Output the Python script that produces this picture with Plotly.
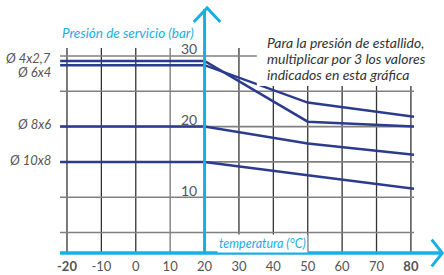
import plotly.graph_objects as go

# ---- data ----
temps = [-22, 20, 50, 81]                 # temperature breakpoints (°C)
tubes = ["Ø 4x2,7", "Ø 6x4", "Ø 8x6", "Ø 10x8"]
p_4x27 = [29.3, 29.3, 20.7, 20.0]
p_6x4 = [28.7, 28.7, 23.4, 21.4]
p_8x6 = [20.0, 20.0, 17.6, 16.0]
p_10x8 = [15.0, 15.0, 13.1, 11.2]
series = [p_4x27, p_6x4, p_8x6, p_10x8]
label_shift = [3, -7, 3, 2]

x_ticks = [-20, -10, 0, 10, 20, 30, 40, 50, 60, 70, 80]
x_ticktext = ["<b>-20</b>", "-10", "0", "10", "20", "30", "40", "50", "60", "70", "<b>80</b>"]
y_grid = [5, 10, 15, 20, 25, 30]
y_labels = [10, 20, 30]
note_lines = ["Para la presión de estallido,", "multiplicar por 3 los valores", "indicados en esta gráfica"]

X_RANGE = [-22.03, 80.9]
Y_RANGE = [2.1, 31.13]

CYAN = "#1aaee5"
NAVY = "#2b3b8e"
FONT = "Lato"

fig = go.Figure()
for name, vals in zip(tubes, series):
    fig.add_trace(go.Scatter(x=temps, y=vals, mode="lines", name=name,
                             line=dict(color=NAVY, width=2.5), showlegend=False,
                             cliponaxis=False, hoverinfo="skip"))

# vertical grid lines (dark)
for xv in x_ticks:
    if xv == 20:
        continue
    fig.add_shape(type="line", xref="x", yref="paper", x0=xv, x1=xv, y0=0, y1=1,
                  line=dict(color="#777777" if xv == 10 else "#333333", width=1.3), layer="below")
# horizontal grid lines (gray)
for yv in y_grid:
    fig.add_shape(type="line", xref="paper", yref="y", x0=0, x1=1, y0=yv, y1=yv,
                  line=dict(color="#808080", width=1.6), layer="below")

# white box behind the note (covers grid)
fig.add_shape(type="rect", xref="paper", yref="paper", x0=0.556, x1=1.3, y0=0.815, y1=1.4,
              fillcolor="white", line=dict(width=0), layer="above")

# cyan axes with arrows
fig.add_shape(type="line", xref="paper", yref="paper", x0=0, x1=1.075, y0=0, y1=0,
              line=dict(color=CYAN, width=3.5), layer="above")
fig.add_shape(type="path", xref="paper", yref="paper",
              path="M 1.050 0.065 L 1.080 0 L 1.050 -0.065",
              line=dict(color=CYAN, width=3), layer="above")
fig.add_shape(type="line", xref="x", yref="paper", x0=20, x1=20, y0=0, y1=1.19,
              line=dict(color=CYAN, width=3), layer="above")
fig.add_shape(type="path", xref="paper", yref="paper",
              path="M 0.378 1.127 L 0.4155 1.195 L 0.453 1.127",
              line=dict(color=CYAN, width=3), layer="above")

# y labels near the cyan axis
for yv in y_labels:
    fig.add_annotation(x=20, y=yv, xref="x", yref="y", text=str(yv), showarrow=False,
                       xanchor="right", yanchor="middle", xshift=-6, yshift=7,
                       font=dict(family=FONT, size=14, color="#555555"))

# tube labels on the left
for name, vals, sh in zip(tubes, series, label_shift):
    fig.add_annotation(x=0, y=vals[0], xref="paper", yref="y", text="<i>" + name + "</i>",
                       showarrow=False, xanchor="right", yanchor="middle", xshift=-7, yshift=sh,
                       font=dict(family=FONT, size=13, color="#555555"))

# axis titles
fig.add_annotation(x=0.385, y=1.075, xref="paper", yref="paper",
                   text="<i>Presión de servicio (bar)</i>", showarrow=False,
                   xanchor="right", yanchor="middle",
                   font=dict(family=FONT, size=13.5, color=CYAN))
fig.add_annotation(x=20, y=0.045, xref="x", yref="paper",
                   text="<i>temperatura (°C)</i>", showarrow=False,
                   xanchor="left", yanchor="middle", xshift=12,
                   bgcolor="white", borderpad=1,
                   font=dict(family=FONT, size=12.5, color=CYAN))

# note (one annotation per line for tighter spacing)
for i, line in enumerate(note_lines):
    fig.add_annotation(x=(265 - 60) / 354, y=(253 - (43 + 15.5 * i)) / 205, xref="paper", yref="paper",
                       text="<i>" + line + "</i>", showarrow=False,
                       xanchor="left", yanchor="middle",
                       font=dict(family=FONT, size=14, color="#333333"))

fig.update_layout(
    width=444, height=275,
    margin=dict(l=60, r=30, t=48, b=22, autoexpand=False),
    paper_bgcolor="white", plot_bgcolor="white",
    hovermode=False,
    xaxis=dict(range=X_RANGE, tickvals=x_ticks, ticktext=x_ticktext, showgrid=False,
               zeroline=False, showline=False, ticks="", ticklabelstandoff=4, automargin=False,
               fixedrange=True,
               tickfont=dict(family=FONT, size=13, color="#555555")),
    yaxis=dict(range=Y_RANGE, showgrid=False, zeroline=False, showline=False,
               showticklabels=False, ticks="", automargin=False, fixedrange=True),
)

fig.write_html("out.html", config={"displayModeBar": False},
               post_script="document.body.style.margin='0px';")
